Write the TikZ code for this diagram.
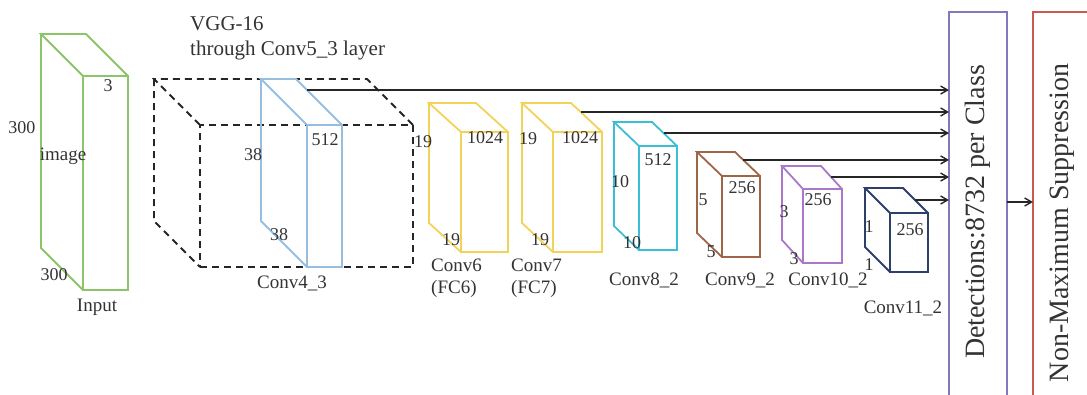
\documentclass[tikz,border=0pt]{standalone}
\usepackage{fontspec}
\setmainfont{Liberation Serif}
\usetikzlibrary{arrows.meta, positioning, calc}
\definecolor{inGreen}{HTML}{8CC46A}
\definecolor{c43Blue}{HTML}{96BEE1}
\definecolor{fcYellow}{HTML}{F2D35A}
\definecolor{c8Cyan}{HTML}{3CBED7}
\definecolor{c9Brown}{HTML}{A06446}
\definecolor{c10Purple}{HTML}{AA78C8}
\definecolor{c11Navy}{HTML}{2E4068}
\definecolor{detPurple}{HTML}{8278BE}
\definecolor{nmsRed}{HTML}{C85A50}
\definecolor{txtGray}{HTML}{333333}
\tikzset{
  layer/.style={draw=#1, line width=1.8pt, inner sep=0pt, outer sep=0pt},
  vggbox/.style={draw=black!85, line width=1.8pt, dash pattern=on 7pt off 5pt, inner sep=0pt, outer sep=0pt},
  lbl/.style={font=\fontsize{19}{22}\selectfont, text=txtGray, inner sep=0pt},
  num/.style={font=\fontsize{18}{20}\selectfont, text=txtGray, inner sep=0pt},
  arr/.style={-{Straight Barb[length=7pt, width=8pt]}, line width=1.4pt, draw=black!85},
  headbox/.style={draw=#1, line width=1.6pt, minimum width=58pt, inner sep=0pt, outer sep=0pt,
    anchor=north west, font=\fontsize{28}{30}\selectfont, text=txtGray}
}
% front face as a node, top and left faces drawn from its corners
\newcommand{\cuboid}[8]{%
  \node[#2, minimum width=#5pt, minimum height=#6pt] (#1) at (#3,#4) {};
  \draw[#2] (#1.north west) -- ++(-#7,-#8) coordinate (#1-tl)
    -- ($(#1.north east)+(-#7,-#8)$) coordinate (#1-tr) -- (#1.north east);
  \draw[#2] (#1-tl) -- ++(0,#6) -- (#1.south west);
}
\begin{document}
\begin{tikzpicture}[x=1pt, y=-1pt]
  \useasboundingbox (0,0) rectangle (1087,394);
  \clip (0,0) rectangle (1087,394);
  % layers
  \cuboid{inp}{layer=inGreen}{105.5}{183}{45}{214}{42}{42}
  \cuboid{vgg}{vggbox}{306.5}{196}{213}{142}{46}{46}
  \cuboid{c43}{layer=c43Blue}{324.5}{196}{35}{142}{46}{46}
  \cuboid{c6}{layer=fcYellow}{484.5}{192}{47}{120}{32}{29}
  \cuboid{c7}{layer=fcYellow}{577.5}{192}{49}{120}{31}{29}
  \cuboid{c8}{layer=c8Cyan}{658}{198}{38}{104}{25}{24}
  \cuboid{c9}{layer=c9Brown}{741}{216.5}{38}{81}{25}{24}
  \cuboid{c10}{layer=c10Purple}{822.5}{226}{39}{74}{21}{23}
  \cuboid{c11}{layer=c11Navy}{909}{242.5}{38}{59}{25}{25}
  % detection and suppression stages
  \node[headbox=detPurple, minimum height=400pt] (det) at (949,12) {\rotatebox{90}{Detections:8732 per Class}};
  \node[headbox=nmsRed, minimum height=422pt] (nms) at (1033,12) {\rotatebox{90}{Non-Maximum Suppression}};
  % feature maps to detections
  \foreach \src/\f in {c43/0.24, c7/0.31, c8/0.46, c9/0.33, c10/0.48, c11/0.48} {
    \coordinate (\src-out) at ($(\src-tr)!\f!(\src.north east)$);
    \draw[arr] (\src-out) -- (\src-out -| det.west);
  }
  \path (det.east) ++(0,-10) coordinate (det-out);
  \draw[arr] (det-out) -- (det-out -| nms.west);
  % sizes
  \foreach \n/\x/\y/\t in {inp-c/108/86/3, inp-h/22/128/300, inp-w/54/275/300,
      c43-h/253/155/38, c43-c/325/140/512, c43-w/279/235/38,
      c6-h/423/142/19, c6-c/485/138/1024, c6-w/451/240/19,
      c7-h/528/139/19, c7-c/580/138/1024, c7-w/540/240/19,
      c8-h/620/182/10, c8-c/658/160/512, c8-w/632/243/10,
      c9-h/703/200/5, c9-c/742/188/256, c9-w/711/252/5,
      c10-h/784/212/3, c10-c/818/200/256, c10-w/794/259/3,
      c11-h/869/227/1, c11-c/910/230/256, c11-w/869/265/1} {
    \node[num] (\n) at (\x,\y) {\t};
  }
  % names
  \node[lbl] (inp-img) at (63,156) {image};
  \node[lbl] (inp-name) at (97,307) {Input};
  \node[lbl, font=\fontsize{21}{25}\selectfont, align=left, anchor=west] (vgg-name) at (190,38) {VGG-16\\through Conv5\_3 layer};
  \node[lbl] (c43-name) at (292,283) {Conv4\_3};
  \node[lbl, align=left, anchor=north west] (c6-name) at (431,259) {Conv6\\(FC6)};
  \node[lbl, align=left, anchor=north west] (c7-name) at (511,259) {Conv7\\(FC7)};
  \node[lbl] (c8-name) at (644,280) {Conv8\_2};
  \node[lbl] (c9-name) at (740,280) {Conv9\_2};
  \node[lbl] (c10-name) at (828,280) {Conv10\_2};
  \node[lbl] (c11-name) at (903,308) {Conv11\_2};
\end{tikzpicture}
\end{document}
